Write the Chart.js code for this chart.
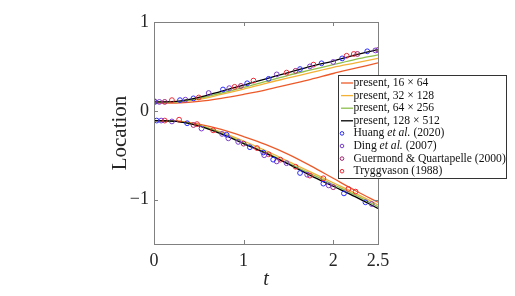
<!DOCTYPE html>
<html>
<head>
<meta charset="utf-8">
<script src="https://cdn.jsdelivr.net/npm/chart.js@4"></script>
<style>html,body{margin:0;padding:0;background:#fff}</style>
</head>
<body>
<canvas id="c" width="515" height="296"></canvas>
<script>
// time samples shared by the simulation curves
const tGrid = [0, 0.25, 0.5, 0.75, 1, 1.25, 1.5, 1.75, 2, 2.25, 2.5];

// present results, upper and lower interface locations
const up16 = [0.085, 0.088, 0.105, 0.14, 0.185, 0.235, 0.295, 0.355, 0.42, 0.48, 0.54];
const lo16 = [-0.11, -0.115, -0.15, -0.21, -0.29, -0.38, -0.49, -0.62, -0.76, -0.90, -1.03];
const up32 = [0.095, 0.10, 0.13, 0.185, 0.245, 0.31, 0.37, 0.43, 0.49, 0.54, 0.59];
const lo32 = [-0.11, -0.115, -0.16, -0.24, -0.34, -0.45, -0.57, -0.69, -0.81, -0.93, -1.06];
const up64 = [0.10, 0.10, 0.14, 0.20, 0.265, 0.33, 0.40, 0.46, 0.52, 0.58, 0.63];
const lo64 = [-0.11, -0.12, -0.165, -0.25, -0.36, -0.47, -0.59, -0.71, -0.83, -0.95, -1.08];
const up128 = [0.10, 0.105, 0.15, 0.22, 0.29, 0.36, 0.43, 0.50, 0.56, 0.63, 0.69];
const lo128 = [-0.11, -0.12, -0.17, -0.26, -0.37, -0.48, -0.60, -0.73, -0.85, -0.97, -1.10];

// reference data points
const huangT = [0.01, 0.29, 0.44, 0.77, 1.04, 1.28, 1.63, 1.87, 2.1, 2.38,
                0.03, 0.37, 0.81, 1.07, 1.22, 1.33, 1.63, 1.89, 2.12, 2.36];
const huangY = [0.10, 0.12, 0.14, 0.24, 0.31, 0.36, 0.47, 0.535, 0.59, 0.67,
                -0.11, -0.14, -0.27, -0.41, -0.47, -0.55, -0.70, -0.82, -0.93, -1.03];
const dingT = [0.06, 0.35, 0.61, 0.84, 1.37, 1.74, 2.0, 2.47,
               0.08, 0.2, 0.53, 0.76, 0.83, 0.94, 1.23, 1.37, 1.48, 1.71, 1.95, 2.43];
const dingY = [0.10, 0.125, 0.20, 0.255, 0.41, 0.50, 0.55, 0.68,
               -0.11, -0.12, -0.20, -0.26, -0.31, -0.35, -0.50, -0.57, -0.59, -0.72, -0.84, -1.05];
const guerT = [0.12, 0.97, 1.58, 2.27, 2.5, 0.44, 1.0, 2.0];
const guerY = [0.10, 0.28, 0.45, 0.64, 0.685, -0.16, -0.37, -0.86];
const tryT = [0.0, 0.2, 0.5, 0.9, 1.11, 1.48, 1.78, 2.15, 2.23,
              0.12, 0.28, 0.48, 0.66, 1.15, 1.28, 1.41, 1.58, 1.74, 1.89, 2.17, 2.25];
const tryY = [0.11, 0.12, 0.15, 0.27, 0.34, 0.43, 0.52, 0.62, 0.64,
              -0.11, -0.10, -0.15, -0.22, -0.42, -0.49, -0.55, -0.63, -0.73, -0.76, -0.88, -0.91];

const xTicks = [0, 1, 2, 2.5];
const yTicks = [1, 0, -1];

const SERIF = '"Liberation Serif", "DejaVu Serif", serif';
const AXIS = '#808080';

function branches(up, lo) {
  const pts = tGrid.map((t, i) => ({x: t, y: up[i]}));
  pts.push({x: 2.5, y: null});
  return pts.concat(tGrid.map((t, i) => ({x: t, y: lo[i]})));
}
function pairs(ts, ys) {
  return ts.map((t, i) => ({x: t, y: ys[i]}));
}
function lineSet(label, color, data, order) {
  return {type: 'line', label, data, borderColor: color, backgroundColor: color,
    borderWidth: 1.3, pointRadius: 0, tension: 0.35, spanGaps: false, order};
}
function dotSet(label, color, data) {
  return {type: 'scatter', label, data, borderColor: color, backgroundColor: 'rgba(0,0,0,0)',
    borderWidth: 1, pointRadius: 2.4, pointStyle: 'circle', order: 0, isDot: true};
}

const boxPlugin = {
  id: 'box',
  afterDraw(chart) {
    const {ctx, chartArea: a, scales: {x, y}} = chart;
    ctx.save();
    ctx.strokeStyle = AXIS;
    ctx.lineWidth = 1;
    ctx.strokeRect(Math.round(a.left) + 0.5, Math.round(a.top) + 0.5,
      Math.round(a.right - a.left), Math.round(a.bottom - a.top));
    ctx.beginPath();
    [1, 2].forEach(v => {
      const px = Math.round(x.getPixelForValue(v)) + 0.5;
      ctx.moveTo(px, a.bottom); ctx.lineTo(px, a.bottom - 4);
      ctx.moveTo(px, a.top); ctx.lineTo(px, a.top + 4);
    });
    [0, -1].forEach(v => {
      const py = Math.round(y.getPixelForValue(v)) + 0.5;
      ctx.moveTo(a.left, py); ctx.lineTo(a.left + 4, py);
      ctx.moveTo(a.right, py); ctx.lineTo(a.right - 4, py);
    });
    ctx.stroke();

    // legend box
    const lx = 338, ly = 75, lw = 168, lh = 103, row = 12.6;
    ctx.fillStyle = '#fff';
    ctx.fillRect(lx, ly, lw, lh);
    ctx.strokeStyle = '#333';
    ctx.strokeRect(lx + 0.5, ly + 0.5, lw, lh);
    ctx.textBaseline = 'middle';
    chart.data.datasets.filter(d => d.legend).forEach((d, i) => {
      const cy = ly + 8 + i * row;
      ctx.strokeStyle = d.borderColor;
      if (d.isDot) {
        ctx.lineWidth = 1;
        ctx.beginPath(); ctx.arc(lx + 4, cy, 1.8, 0, Math.PI * 2); ctx.stroke();
      } else {
        ctx.lineWidth = 1.3;
        ctx.beginPath(); ctx.moveTo(lx + 3, cy); ctx.lineTo(lx + 15, cy); ctx.stroke();
      }
      let tx = lx + 15.5;
      ctx.fillStyle = '#111';
      const parts = d.label.split('et al.');
      parts.forEach((p, k) => {
        ctx.font = '11.6px ' + SERIF;
        ctx.fillText(p, tx, cy);
        tx += ctx.measureText(p).width;
        if (k < parts.length - 1) {
          ctx.font = 'italic 11.6px ' + SERIF;
          ctx.fillText('et al.', tx, cy);
          tx += ctx.measureText('et al.').width;
        }
      });
    });
    ctx.restore();
  }
};

const datasets = [
  lineSet('present, 16 \u00d7 64', '#ec5a2a', branches(up16, lo16), 4),
  lineSet('present, 32 \u00d7 128', '#f3b135', branches(up32, lo32), 3),
  lineSet('present, 64 \u00d7 256', '#8dbf4c', branches(up64, lo64), 2),
  lineSet('present, 128 \u00d7 512', '#000000', branches(up128, lo128), 1),
  dotSet('Huang et al. (2020)', '#2a2aff', pairs(huangT, huangY)),
  dotSet('Ding et al. (2007)', '#7a3ccc', pairs(dingT, dingY)),
  dotSet('Guermond & Quartapelle (2000)', '#a3236e', pairs(guerT, guerY)),
  dotSet('Tryggvason (1988)', '#ee2a36', pairs(tryT, tryY))
];
datasets.forEach(d => { d.legend = true; });

new Chart(document.getElementById('c'), {
  data: {datasets},
  options: {
    responsive: false,
    animation: false,
    layout: {padding: {left: 108, right: 137, top: 22, bottom: 4}},
    plugins: {legend: {display: false}, tooltip: {enabled: false}},
    scales: {
      x: {
        type: 'linear', min: 0, max: 2.5,
        afterBuildTicks: s => { s.ticks = xTicks.map(v => ({value: v})); },
        afterFit: s => { s.height = 48; },
        grid: {display: false, drawTicks: false},
        border: {display: false},
        ticks: {color: '#262626', font: {family: SERIF, size: 18}, padding: 6, maxRotation: 0},
        title: {display: true, text: 't', color: '#262626',
          font: {family: SERIF, size: 20, style: 'italic'}, padding: {top: 0, bottom: 0}}
      },
      y: {
        type: 'linear', min: -1.5, max: 1,
        afterBuildTicks: s => { s.ticks = yTicks.map(v => ({value: v})); },
        afterFit: s => { s.width = 46; },
        grid: {display: false, drawTicks: false},
        border: {display: false},
        ticks: {color: '#262626', font: {family: SERIF, size: 18}, padding: 5,
          callback: v => v < 0 ? '\u2212' + Math.abs(v) : String(v)},
        title: {display: true, text: 'Location', color: '#262626',
          font: {family: SERIF, size: 21}, padding: {top: 0, bottom: 0}}
      }
    }
  },
  plugins: [boxPlugin]
});
</script>
</body>
</html>
